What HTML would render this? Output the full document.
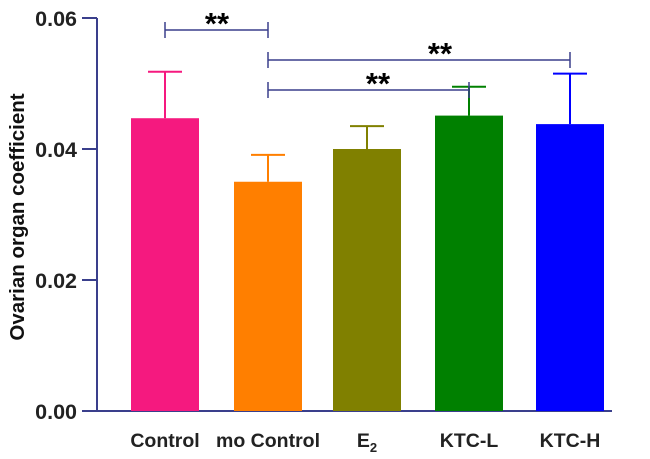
<!DOCTYPE html>
<html><head><meta charset="utf-8"><style>
body{margin:0;background:#fff;}
text{font-family:"Liberation Sans",Arial,sans-serif;font-weight:bold;}
</style></head><body>
<svg id="chart" width="650" height="454" xmlns="http://www.w3.org/2000/svg">
</svg>
<script>
const categories=["Control","mo Control","E2","KTC-L","KTC-H"];
const means=[0.0447,0.0350,0.0400,0.0451,0.0438];
const errs=[0.0071,0.0041,0.0035,0.0044,0.0077];
const colors=["#f5197f","#ff7f00","#808000","#008000","#0000ff"];
const yTicks=[0,0.02,0.04,0.06];
const yTickLabels=["0.00","0.02","0.04","0.06"];
const svg=document.getElementById('chart');
const NS="http://www.w3.org/2000/svg";
const y0=411,pxPer=131/0.02;
const y=v=>y0-v*pxPer;
const centers=[165,268,367,469,570];
const x=i=>centers[i];
function mk(t,a,p){const e=document.createElementNS(NS,t);for(const k in a)e.setAttribute(k,a[k]);(p||svg).appendChild(e);return e;}
const axc="#3a3f8c";
let e=mk('line',{x1:97,y1:y(0.06),x2:97,y2:y0,stroke:axc,'stroke-width':2});


e=mk('line',{x1:82,y1:y0,x2:612,y2:y0,stroke:axc,'stroke-width':2});


yTicks.forEach((v,i)=>{
 let t=mk('line',{x1:82,y1:y(v),x2:97,y2:y(v),stroke:axc,'stroke-width':2});
 
 
 let l=mk('text',{x:77,y:y(v)+8,'text-anchor':'end','font-size':21.5,fill:'#222'});
 l.textContent=yTickLabels[i];
 
 
});
let yt=mk('text',{transform:'translate(24,217) rotate(-90)','text-anchor':'middle','font-size':20.5,fill:'#111'});
yt.textContent="Ovarian organ coefficient";


categories.forEach((c,i)=>{
 const cx=x(i),w=68;
 let ln=mk('line',{x1:cx,y1:y(means[i]+errs[i]),x2:cx,y2:y(means[i]),stroke:colors[i],'stroke-width':2});
 
 
 let cap=mk('line',{x1:cx-17,y1:y(means[i]+errs[i]),x2:cx+17,y2:y(means[i]+errs[i]),stroke:colors[i],'stroke-width':2});
 
 
 let r=mk('rect',{x:cx-w/2,y:y(means[i]),width:w,height:y0-y(means[i]),fill:colors[i]});
 
 
 let l=mk('text',{x:cx,y:447,'text-anchor':'middle','font-size':19.5,fill:'#222'});
 if(c==="E2"){l.innerHTML='E<tspan font-size="13" dy="5">2</tspan>';}else l.textContent=c;
 
 
});
const brackets=[[0,1,30,217,22],[1,4,60,440,52],[1,3,90,378,82]];
brackets.forEach(b=>{
 const g=mk('g',{});
 
 
 mk('line',{x1:x(b[0]),y1:b[2],x2:x(b[1]),y2:b[2],stroke:axc,'stroke-width':1.5},g);
 mk('line',{x1:x(b[0]),y1:b[2]-8,x2:x(b[0]),y2:b[2]+8,stroke:axc,'stroke-width':1.5},g);
 mk('line',{x1:x(b[1]),y1:b[2]-8,x2:x(b[1]),y2:b[2]+8,stroke:axc,'stroke-width':1.5},g);
 const s=mk('text',{x:b[3],y:b[4]+12,'text-anchor':'middle','font-size':31,fill:'#000'},g);
 s.textContent="**";
});
</script>
</body></html>
